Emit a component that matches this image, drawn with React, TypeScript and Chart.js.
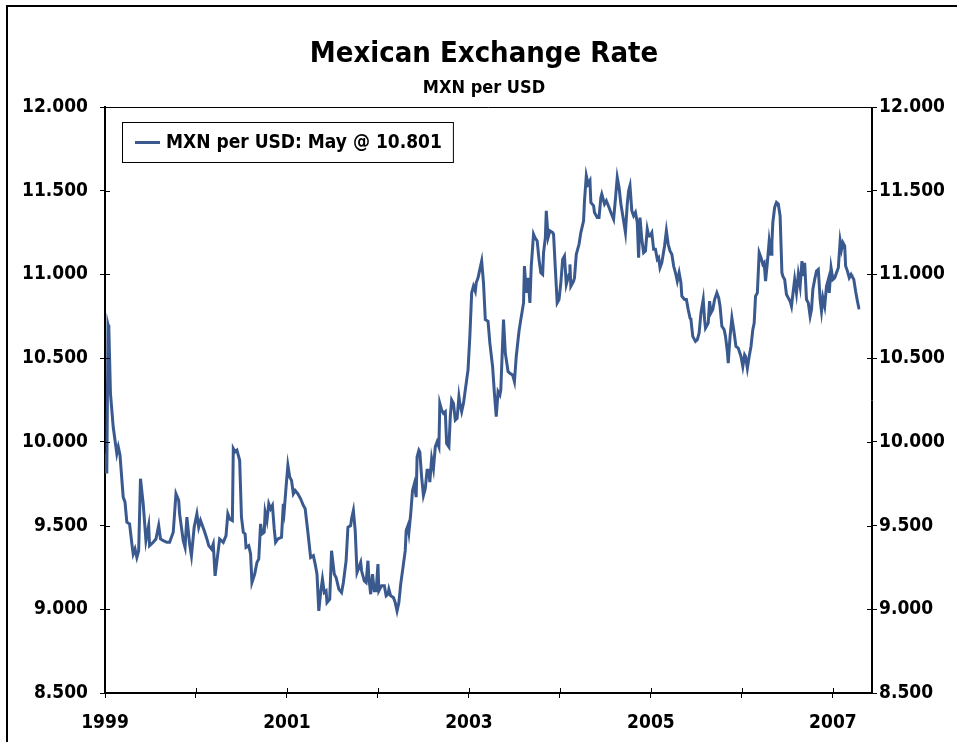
import React, { useEffect, useRef } from 'react';
import { Chart, registerables } from 'chart.js';

Chart.register(...registerables);

const TITLE = 'Mexican Exchange Rate';
const SUBTITLE = 'MXN per USD';
const SERIES_LABEL = 'MXN per USD: May @ 10.801';
const SERIES_COLOR = '#3A5A8F';

const yearTicks = [1999, 2000, 2001, 2002, 2003, 2004, 2005, 2006, 2007];
const yearLabels = [1999, 2001, 2003, 2005, 2007];
const X_MIN = 1999;
const X_MAX = 2007.43;
const Y_MIN = 8.5;
const Y_MAX = 12;
const Y_STEP = 0.5;

// decimal-year dates and MXN per USD values
const dates1999 = [1999.0, 1999.01, 1999.02, 1999.033, 1999.042, 1999.06, 1999.09, 1999.13, 1999.146, 1999.165, 1999.2, 1999.22, 1999.24, 1999.27, 1999.3, 1999.31, 1999.33, 1999.35, 1999.37, 1999.39, 1999.42, 1999.45, 1999.48, 1999.49, 1999.53, 1999.56, 1999.59, 1999.61, 1999.64, 1999.68, 1999.71, 1999.75, 1999.78, 1999.81, 1999.82, 1999.86, 1999.88, 1999.9, 1999.93, 1999.95, 1999.98];
const rates1999 = [9.93, 9.82, 9.82, 10.7, 10.68, 10.29, 10.09, 9.93, 9.97, 9.92, 9.67, 9.64, 9.52, 9.51, 9.37, 9.33, 9.36, 9.31, 9.35, 9.78, 9.63, 9.41, 9.5, 9.38, 9.4, 9.42, 9.5, 9.42, 9.41, 9.4, 9.4, 9.46, 9.69, 9.65, 9.57, 9.41, 9.37, 9.55, 9.39, 9.32, 9.49];

const dates2000 = [2000.01, 2000.03, 2000.05, 2000.09, 2000.12, 2000.14, 2000.17, 2000.19, 2000.21, 2000.235, 2000.26, 2000.3, 2000.33, 2000.35, 2000.37, 2000.4, 2000.41, 2000.43, 2000.45, 2000.48, 2000.5, 2000.52, 2000.54, 2000.55, 2000.58, 2000.6, 2000.615, 2000.645, 2000.67, 2000.69, 2000.71, 2000.725, 2000.75, 2000.76, 2000.78, 2000.8, 2000.82, 2000.84, 2000.86, 2000.875, 2000.9, 2000.94, 2000.96, 2000.97, 2000.99];
const rates2000 = [9.57, 9.49, 9.53, 9.47, 9.42, 9.38, 9.36, 9.39, 9.2, 9.31, 9.42, 9.4, 9.44, 9.57, 9.54, 9.53, 9.96, 9.94, 9.95, 9.89, 9.55, 9.46, 9.45, 9.37, 9.38, 9.33, 9.16, 9.21, 9.28, 9.3, 9.51, 9.45, 9.46, 9.58, 9.53, 9.63, 9.6, 9.62, 9.48, 9.4, 9.42, 9.43, 9.63, 9.59, 9.73];

const dates2001 = [2001.01, 2001.03, 2001.05, 2001.07, 2001.09, 2001.12, 2001.15, 2001.18, 2001.2, 2001.23, 2001.26, 2001.29, 2001.31, 2001.33, 2001.35, 2001.37, 2001.39, 2001.41, 2001.43, 2001.44, 2001.47, 2001.49, 2001.52, 2001.54, 2001.57, 2001.6, 2001.62, 2001.65, 2001.67, 2001.7, 2001.71, 2001.73, 2001.75, 2001.77, 2001.79, 2001.81, 2001.82, 2001.85, 2001.87, 2001.89, 2001.9, 2001.92, 2001.94, 2001.96, 2001.98];
const rates2001 = [9.86, 9.79, 9.77, 9.69, 9.71, 9.69, 9.66, 9.62, 9.6, 9.46, 9.31, 9.32, 9.27, 9.21, 8.99, 9.1, 9.18, 9.1, 9.11, 9.04, 9.06, 9.35, 9.21, 9.19, 9.12, 9.1, 9.16, 9.29, 9.49, 9.5, 9.54, 9.59, 9.47, 9.22, 9.25, 9.28, 9.23, 9.17, 9.16, 9.29, 9.19, 9.09, 9.21, 9.11, 9.11];

const dates2002 = [2002.0, 2002.01, 2002.04, 2002.07, 2002.09, 2002.11, 2002.12, 2002.14, 2002.17, 2002.19, 2002.21, 2002.23, 2002.25, 2002.28, 2002.3, 2002.31, 2002.33, 2002.34, 2002.36, 2002.38, 2002.4, 2002.42, 2002.43, 2002.45, 2002.46, 2002.48, 2002.5, 2002.52, 2002.54, 2002.56, 2002.57, 2002.59, 2002.61, 2002.63, 2002.65, 2002.67, 2002.68, 2002.7, 2002.72, 2002.74, 2002.755, 2002.78, 2002.795, 2002.81, 2002.83, 2002.85, 2002.87, 2002.89, 2002.9, 2002.92, 2002.94, 2002.97, 2002.99];
const rates2002 = [9.27, 9.11, 9.14, 9.14, 9.08, 9.09, 9.12, 9.08, 9.07, 9.04, 8.99, 9.04, 9.15, 9.27, 9.35, 9.47, 9.5, 9.46, 9.57, 9.71, 9.75, 9.67, 9.91, 9.95, 9.94, 9.79, 9.68, 9.72, 9.83, 9.83, 9.76, 9.9, 9.84, 9.97, 10.0, 9.97, 10.23, 10.19, 10.17, 10.18, 9.99, 9.97, 10.15, 10.25, 10.23, 10.13, 10.14, 10.27, 10.23, 10.18, 10.23, 10.35, 10.43];

const dates2003 = [2003.01, 2003.03, 2003.05, 2003.07, 2003.08, 2003.1, 2003.12, 2003.14, 2003.16, 2003.18, 2003.21, 2003.23, 2003.26, 2003.28, 2003.3, 2003.32, 2003.34, 2003.35, 2003.38, 2003.4, 2003.43, 2003.45, 2003.48, 2003.5, 2003.52, 2003.55, 2003.57, 2003.6, 2003.61, 2003.63, 2003.65, 2003.67, 2003.685, 2003.71, 2003.725, 2003.75, 2003.77, 2003.79, 2003.81, 2003.82, 2003.84, 2003.85, 2003.87, 2003.89, 2003.92, 2003.93, 2003.95, 2003.97, 2003.99];
const rates2003 = [10.63, 10.89, 10.93, 10.9, 10.95, 10.98, 11.03, 11.08, 10.95, 10.73, 10.72, 10.59, 10.45, 10.29, 10.15, 10.3, 10.28, 10.31, 10.73, 10.53, 10.42, 10.41, 10.4, 10.36, 10.51, 10.66, 10.73, 10.83, 11.05, 10.89, 10.98, 10.83, 11.05, 11.24, 11.22, 11.2, 11.09, 11.01, 11.0, 11.13, 11.22, 11.38, 11.22, 11.26, 11.25, 11.24, 11.03, 10.83, 10.85];

const dates2004 = [2004.01, 2004.03, 2004.05, 2004.07, 2004.1, 2004.11, 2004.12, 2004.15, 2004.16, 2004.18, 2004.21, 2004.23, 2004.26, 2004.27, 2004.29, 2004.31, 2004.33, 2004.34, 2004.37, 2004.38, 2004.41, 2004.43, 2004.45, 2004.46, 2004.49, 2004.51, 2004.54, 2004.56, 2004.59, 2004.61, 2004.63, 2004.65, 2004.67, 2004.7, 2004.72, 2004.74, 2004.755, 2004.77, 2004.79, 2004.81, 2004.83, 2004.85, 2004.865, 2004.88, 2004.9, 2004.92, 2004.94, 2004.96, 2004.975, 2004.99];
const rates2004 = [10.95, 11.09, 11.11, 10.94, 11.0, 11.06, 10.93, 10.96, 10.98, 11.12, 11.18, 11.25, 11.32, 11.44, 11.59, 11.54, 11.56, 11.43, 11.41, 11.37, 11.34, 11.34, 11.46, 11.48, 11.42, 11.44, 11.4, 11.37, 11.33, 11.45, 11.58, 11.52, 11.42, 11.32, 11.25, 11.42, 11.5, 11.53, 11.38, 11.35, 11.37, 11.31, 11.1, 11.34, 11.21, 11.13, 11.14, 11.27, 11.23, 11.23];

const dates2005 = [2005.01, 2005.03, 2005.05, 2005.07, 2005.085, 2005.1, 2005.12, 2005.15, 2005.17, 2005.19, 2005.21, 2005.23, 2005.25, 2005.27, 2005.29, 2005.31, 2005.33, 2005.34, 2005.37, 2005.39, 2005.41, 2005.43, 2005.44, 2005.46, 2005.49, 2005.51, 2005.53, 2005.55, 2005.575, 2005.59, 2005.6, 2005.63, 2005.645, 2005.66, 2005.68, 2005.7, 2005.725, 2005.745, 2005.76, 2005.78, 2005.805, 2005.82, 2005.84, 2005.85, 2005.87, 2005.89, 2005.91, 2005.935, 2005.96, 2005.99];
const rates2005 = [11.25, 11.15, 11.15, 11.09, 11.1, 11.04, 11.07, 11.17, 11.26, 11.18, 11.14, 11.12, 11.05, 11.01, 10.96, 11.01, 10.95, 10.87, 10.85, 10.85, 10.79, 10.74, 10.73, 10.63, 10.6, 10.61, 10.65, 10.77, 10.85, 10.73, 10.68, 10.71, 10.84, 10.77, 10.79, 10.85, 10.89, 10.86, 10.81, 10.69, 10.67, 10.63, 10.54, 10.47, 10.63, 10.74, 10.67, 10.57, 10.56, 10.51];

const dates2006 = [2006.01, 2006.03, 2006.04, 2006.06, 2006.08, 2006.1, 2006.12, 2006.135, 2006.15, 2006.17, 2006.19, 2006.21, 2006.23, 2006.245, 2006.26, 2006.28, 2006.3, 2006.32, 2006.33, 2006.34, 2006.36, 2006.38, 2006.4, 2006.42, 2006.44, 2006.45, 2006.47, 2006.49, 2006.51, 2006.53, 2006.545, 2006.56, 2006.58, 2006.6, 2006.62, 2006.64, 2006.66, 2006.67, 2006.69, 2006.71, 2006.73, 2006.75, 2006.765, 2006.78, 2006.8, 2006.82, 2006.84, 2006.86, 2006.875, 2006.89, 2006.91, 2006.93, 2006.95, 2006.96, 2006.98];
const rates2006 = [10.45, 10.52, 10.51, 10.44, 10.51, 10.57, 10.67, 10.71, 10.87, 10.89, 11.13, 11.1, 11.06, 11.07, 10.96, 11.07, 11.2, 11.12, 11.19, 11.31, 11.4, 11.43, 11.42, 11.35, 11.01, 10.99, 10.97, 10.88, 10.86, 10.84, 10.81, 10.88, 10.97, 10.89, 11.0, 10.93, 11.08, 10.99, 11.07, 10.85, 10.83, 10.75, 10.79, 10.91, 10.97, 11.02, 11.03, 10.85, 10.78, 10.86, 10.81, 10.93, 10.97, 10.89, 11.04];

const dates2007 = [2007.0, 2007.02, 2007.04, 2007.06, 2007.08, 2007.095, 2007.11, 2007.13, 2007.14, 2007.16, 2007.18, 2007.2, 2007.21, 2007.23, 2007.25, 2007.27, 2007.285, 2007.3];
const rates2007 = [10.97, 10.98, 11.01, 11.04, 11.2, 11.15, 11.19, 11.17, 11.05, 11.02, 10.98, 11.0, 10.99, 10.97, 10.9, 10.84, 10.8, 10.801];

const allDates = [dates1999, dates2000, dates2001, dates2002, dates2003, dates2004, dates2005, dates2006, dates2007].flat();
const allRates = [rates1999, rates2000, rates2001, rates2002, rates2003, rates2004, rates2005, rates2006, rates2007].flat();

const FONT = '"DejaVu Sans Condensed", "DejaVu Sans", sans-serif';

const decorPlugin = {
  id: 'decor',
  afterDraw(chart: any) {
    const { ctx, chartArea: a } = chart;
    ctx.save();
    // outer frame
    ctx.fillStyle = '#000';
    ctx.fillRect(6, 5, 951, 2);
    ctx.fillRect(6, 5, 2, 737);

    // titles
    ctx.textAlign = 'center';
    ctx.textBaseline = 'alphabetic';
    ctx.font = `bold 29px ${FONT}`;
    ctx.fillText(TITLE, 484, 62);
    ctx.font = `bold 18px ${FONT}`;
    ctx.fillText(SUBTITLE, 484, 93);

    // plot frame (top and right)
    ctx.strokeStyle = '#000';
    ctx.lineWidth = 1;
    ctx.beginPath();
    ctx.moveTo(a.left, a.top + 0.5);
    ctx.lineTo(a.right - 0.5, a.top + 0.5);
    ctx.lineTo(a.right - 0.5, a.bottom);
    ctx.stroke();

    // inner halves of tick marks
    const ys = chart.scales.y;
    const xs = chart.scales.x;
    ctx.beginPath();
    for (let v = Y_MIN; v <= Y_MAX + 1e-9; v += Y_STEP) {
      const py = Math.round(ys.getPixelForValue(v)) + 0.5;
      ctx.moveTo(a.left, py);
      ctx.lineTo(a.left + 5, py);
      ctx.moveTo(a.right - 5, py);
      ctx.lineTo(a.right, py);
    }
    yearTicks.forEach((yr) => {
      const px = Math.round(xs.getPixelForValue(yr)) + 0.5;
      ctx.moveTo(px, a.bottom);
      ctx.lineTo(px, a.bottom - 5);
    });
    ctx.stroke();

    // legend box
    ctx.font = `bold 19px ${FONT}`;
    const tw = ctx.measureText(SERIES_LABEL).width;
    const bx = a.left + 17;
    const by = a.top + 15;
    const bw = 13 + 25 + 6 + tw + 11;
    const bh = 40;
    ctx.fillStyle = '#fff';
    ctx.fillRect(bx, by, bw, bh);
    ctx.strokeStyle = '#000';
    ctx.lineWidth = 1;
    ctx.strokeRect(bx + 0.5, by + 0.5, bw, bh);
    ctx.strokeStyle = SERIES_COLOR;
    ctx.lineWidth = 3;
    ctx.beginPath();
    ctx.moveTo(bx + 13, by + 20.5);
    ctx.lineTo(bx + 38, by + 20.5);
    ctx.stroke();
    ctx.fillStyle = '#000';
    ctx.textAlign = 'left';
    ctx.textBaseline = 'middle';
    ctx.fillText(SERIES_LABEL, bx + 44, by + 21);
    ctx.restore();
  },
};

const tickFont = { family: FONT, size: 19, weight: 'bold' as const };

export default function App() {
  const ref = useRef<HTMLCanvasElement>(null);
  useEffect(() => {
    if (!ref.current) return;
    const chart = new Chart(ref.current, {
      type: 'line',
      data: {
        datasets: [
          {
            label: SERIES_LABEL,
            data: allDates.map((d, i) => ({ x: d, y: allRates[i] })),
            borderColor: SERIES_COLOR,
            borderWidth: 3,
            pointRadius: 0,
            tension: 0,
            fill: false,
          },
        ],
      },
      options: {
        animation: false,
        responsive: false,
        devicePixelRatio: 1,
        parsing: false as any,
        layout: { padding: { top: 107, left: 0, right: 0, bottom: 0 } },
        plugins: {
          legend: { display: false },
          title: { display: false },
          tooltip: { enabled: false },
        },
        scales: {
          x: {
            type: 'linear',
            min: X_MIN,
            max: X_MAX,
            afterBuildTicks: (axis: any) => {
              axis.ticks = yearTicks.map((v) => ({ value: v }));
            },
            afterFit: (axis: any) => {
              axis.height = 49;
            },
            ticks: {
              autoSkip: false,
              maxRotation: 0,
              color: '#000',
              font: tickFont,
              padding: 14,
              callback: (v: any) => (yearLabels.includes(Number(v)) ? String(v) : ''),
            },
            grid: { drawOnChartArea: false, drawTicks: true, tickLength: 5, color: '#000', lineWidth: 1 },
            border: { display: true, color: '#000', width: 2 },
          },
          y: {
            type: 'linear',
            position: 'left',
            min: Y_MIN,
            max: Y_MAX,
            afterFit: (axis: any) => {
              axis.width = 105;
            },
            ticks: {
              stepSize: Y_STEP,
              color: '#000',
              font: tickFont,
              padding: 12,
              callback: (v: any) => Number(v).toFixed(3),
            },
            grid: { drawOnChartArea: false, drawTicks: true, tickLength: 5, color: '#000', lineWidth: 1 },
            border: { display: true, color: '#000', width: 2 },
          },
          y2: {
            type: 'linear',
            position: 'right',
            min: Y_MIN,
            max: Y_MAX,
            afterFit: (axis: any) => {
              axis.width = 85;
            },
            ticks: {
              stepSize: Y_STEP,
              color: '#000',
              font: tickFont,
              padding: 2,
              callback: (v: any) => Number(v).toFixed(3),
            },
            grid: { drawOnChartArea: false, drawTicks: true, tickLength: 5, color: '#000', lineWidth: 1 },
            border: { display: true, color: '#000', width: 1 },
          },
        },
      },
      plugins: [decorPlugin],
    } as any);
    return () => chart.destroy();
  }, []);

  return (
    <div style={{ position: 'fixed', left: 0, top: 0, width: 957, height: 742, background: '#fff' }}>
      <canvas ref={ref} width={957} height={742} style={{ display: 'block', width: 957, height: 742 }} />
    </div>
  );
}
